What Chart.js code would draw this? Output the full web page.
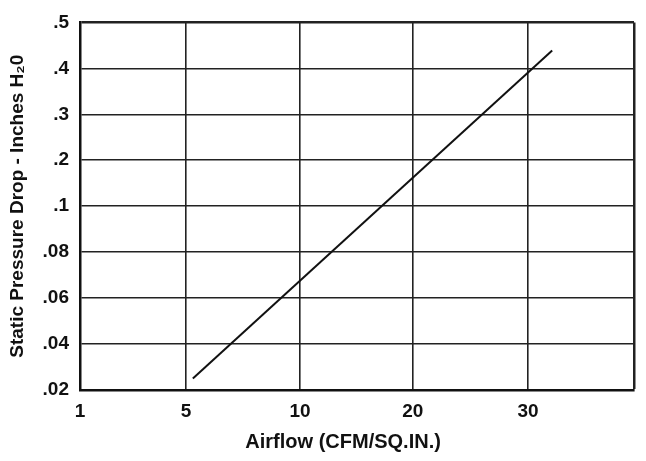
<!DOCTYPE html>
<html>
<head>
<meta charset="utf-8">
<script src="https://cdn.jsdelivr.net/npm/chart.js@4"></script>
<style>
  html, body { margin: 0; padding: 0; background: #fff; }
  #wrap { width: 646px; height: 461px; }
</style>
</head>
<body>
<div id="wrap"><canvas id="dropChart"></canvas></div>
<script>
// tick values as printed on the chart (axes are not linear, each label sits on its own gridline)
const xTickValues = [1, 5, 10, 20, 30];
const xTickLabels = ['1', '5', '10', '20', '30'];
const yTickValues = [0.02, 0.04, 0.06, 0.08, 0.1, 0.2, 0.3, 0.4, 0.5];
const yTickLabels = ['.02', '.04', '.06', '.08', '.1', '.2', '.3', '.4', '.5'];

// the pressure drop line
const airflow = [5.3, 32.1];
const pressureDrop = [0.025, 0.439];

// where each x gridline sits along the axis (the outer columns are a bit narrower)
const xGridPos = [0, 0.93, 1.93, 2.92, 3.93];
const xMax = 4.86;

// piecewise mapping from a printed value to its place on the axis
function place(v, vals, pos) {
    let i = 0;
    while (i < vals.length - 2 && v > vals[i + 1]) i++;
    const t = (v - vals[i]) / (vals[i + 1] - vals[i]);
    return pos[i] + t * (pos[i + 1] - pos[i]);
}
const yGridPos = yTickValues.map((v, i) => i);

const points = airflow.map((a, i) => ({
    x: place(a, xTickValues, xGridPos),
    y: place(pressureDrop[i], yTickValues, yGridPos)
}));

const family = "'Liberation Sans', Arial, sans-serif";
const tickFont = { family: family, size: 19, weight: 'bold' };

new Chart(document.getElementById('dropChart').getContext('2d'), {
    type: 'scatter',
    data: {
        datasets: [{
            label: 'Static Pressure Drop',
            data: points,
            showLine: true,
            borderColor: '#111',
            borderWidth: 2,
            pointRadius: 0
        }]
    },
    options: {
        responsive: true,
        maintainAspectRatio: false,
        animation: false,
        layout: { padding: { top: 22, right: 12, left: 0, bottom: 0 } },
        plugins: {
            legend: { display: false },
            tooltip: { enabled: false }
        },
        scales: {
            x: {
                type: 'linear',
                min: 0,
                max: xMax,
                afterBuildTicks: axis => {
                    axis.ticks = xGridPos.map(v => ({ value: v })).concat([{ value: xMax }]);
                },
                afterFit: axis => { axis.height = 71; },
                ticks: {
                    autoSkip: false,
                    maxRotation: 0,
                    padding: 10,
                    color: '#111',
                    font: tickFont,
                    callback: (v, i) => xTickLabels[i] || ''
                },
                grid: {
                    drawTicks: false,
                    color: '#222',
                    lineWidth: c => (c.index === xGridPos.length ? 2.5 : 1.6)
                },
                border: { color: '#111', width: 2.5 },
                title: {
                    display: true,
                    // trailing spaces: the title sits a little left of the plot centre
                    text: 'Airflow (CFM/SQ.IN.)     ',
                    color: '#111',
                    font: { family: family, size: 20, weight: 'bold' },
                    padding: { top: 0, bottom: 7 }
                }
            },
            y: {
                type: 'linear',
                min: 0,
                max: yTickLabels.length - 1,
                afterBuildTicks: axis => {
                    axis.ticks = yGridPos.map(v => ({ value: v }));
                },
                afterFit: axis => { axis.width = 80; },
                ticks: {
                    autoSkip: false,
                    padding: 11,
                    color: '#111',
                    font: tickFont,
                    callback: (v, i) => yTickLabels[i]
                },
                grid: {
                    drawTicks: false,
                    color: '#222',
                    lineWidth: c => (c.index === yGridPos.length - 1 ? 2.5 : 1.6)
                },
                border: { color: '#111', width: 2.5 },
                title: {
                    display: true,
                    text: 'Static Pressure Drop - Inches H₂0',
                    color: '#111',
                    font: { family: family, size: 19, weight: 'bold' },
                    padding: { top: 6, bottom: 0 }
                }
            }
        }
    }
});
</script>
</body>
</html>
